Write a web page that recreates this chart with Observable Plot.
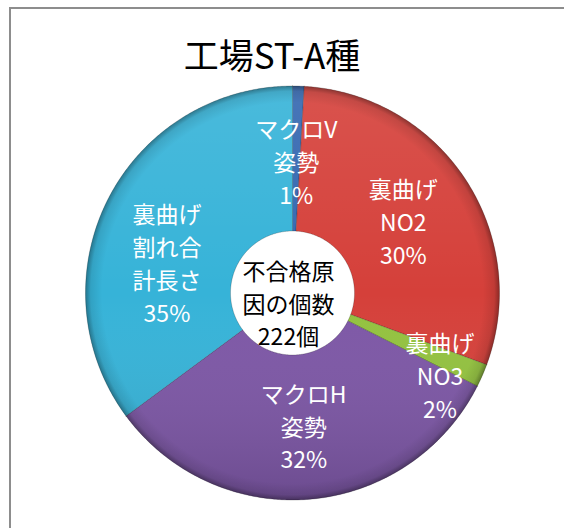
<!DOCTYPE html>
<html>
<head>
<meta charset="utf-8">
<script src="https://cdn.jsdelivr.net/npm/d3@7"></script>
<script src="https://cdn.jsdelivr.net/npm/@observablehq/plot@0.6"></script>
<style>
  html, body { margin: 0; padding: 0; background: #fff; width: 564px; height: 528px; overflow: hidden; position: relative; }
  #frame { position: absolute; left: 9px; top: 7px; width: 555px; height: 521px; border-top: 2px solid #8d8d8d; border-left: 2px solid #8d8d8d; box-sizing: border-box; }
  #title { position: absolute; left: 0; top: 36px; width: 544px; text-align: center; font-family: "Noto Sans CJK JP", sans-serif; font-size: 35px; line-height: 35px; color: #000; }
  #chart { position: absolute; left: 0; top: 70px; }
</style>
</head>
<body>
<div id="frame"></div>
<div id="title"></div>
<div id="chart"></div>
<script>
// ---- data ----
const title = "工場ST-A種";
const categories = ["マクロV姿勢", "裏曲げNO2", "裏曲げNO3", "マクロH姿勢", "裏曲げ割れ合計長さ"];
const labelLines = [["マクロV", "姿勢"], ["裏曲げ", "NO2"], ["裏曲げ", "NO3"], ["マクロH", "姿勢"], ["裏曲げ", "割れ合", "計長さ"]];
const counts = [2, 66, 4, 72, 78];
const colors = ["#3467b0", "#d5403a", "#93c23f", "#7d57a6", "#36b3d8"];
const centerLines = ["不合格原", "因の個数"];
const centerUnit = "個";

// ---- layout ----
const W = 564, H = 447;
const CX = 292, CY = 222.5, RPX = 207;        // pie center / radius in svg pixels
const R_IN = 62 / RPX;                          // hole radius (relative)
const labelR = 0.64;
const labelPlacement = {2: {r: 0.815, angle: 119}, 4: {r: 0.625, angle: 284}};
const font = '"Noto Sans CJK JP", sans-serif';

document.getElementById("title").textContent = title;

const total = d3.sum(counts);
const pie = d3.pie().sort(null).value(d => d)(counts);

function arcPoints(name, a0, a1, rOut, rIn) {
  const pts = [];
  const n = Math.max(2, Math.ceil((a1 - a0) / (Math.PI / 360)));
  for (let k = 0; k <= n; k++) { const a = a0 + (a1 - a0) * k / n; pts.push({name, x: rOut * Math.sin(a), y: rOut * Math.cos(a)}); }
  for (let k = n; k >= 0; k--) { const a = a0 + (a1 - a0) * k / n; pts.push({name, x: rIn * Math.sin(a), y: rIn * Math.cos(a)}); }
  pts.push({...pts[0]});
  return pts;
}

const slicePts = pie.flatMap((p, i) => arcPoints(categories[i], p.startAngle, p.endAngle, 1, R_IN));
const ringPts = arcPoints("ring", 0, 2 * Math.PI, 1, R_IN);
const shadowPts = arcPoints("shadow", 0, 2 * Math.PI, 1, R_IN);

const labelData = pie.map((p, i) => {
  const o = labelPlacement[i] || {};
  const mid = o.angle != null ? o.angle * Math.PI / 180 : (p.startAngle + p.endAngle) / 2;
  const r = o.r != null ? o.r : labelR;
  return {x: r * Math.sin(mid), y: r * Math.cos(mid),
          text: [...labelLines[i], Math.round(p.value / total * 100) + "%"].join("\n")};
});
const centerData = [{x: 0, y: 0, text: [...centerLines, total + centerUnit].join("\n")}];

const chart = Plot.plot({
  width: W, height: H,
  marginTop: 0, marginBottom: 0, marginLeft: 0, marginRight: 0,
  x: {domain: [-CX / RPX, (W - CX) / RPX], axis: null},
  y: {domain: [-(H - CY) / RPX, CY / RPX], axis: null},
  color: {domain: categories, range: colors},
  style: {fontFamily: font, background: "transparent", overflow: "visible"},
  marks: [
    Plot.line(shadowPts, {x: "x", y: "y", z: "name", fill: "#000", fillOpacity: 0.28, stroke: "none", dy: 4, dx: 1, ariaLabel: "shadow"}),
    Plot.line(slicePts, {x: "x", y: "y", z: "name", fill: "name", stroke: "rgba(0,0,0,0.25)", strokeWidth: 0.8, curve: "linear-closed"}),
    Plot.line(ringPts, {x: "x", y: "y", z: "name", fill: "url(#vshade)", stroke: "none"}),
    Plot.line(ringPts, {x: "x", y: "y", z: "name", fill: "url(#rshade)", stroke: "none"}),
    Plot.text(labelData, {x: "x", y: "y", text: "text", fill: "#fff", fontSize: 23, lineHeight: 1.43, fontFamily: font}),
    Plot.text(centerData, {x: "x", y: "y", text: "text", fill: "#000", fontSize: 23, lineHeight: 1.43, fontFamily: font, dy: 9, dx: -4})
  ]
});

// gradients for the bevelled look
const svgNS = "http://www.w3.org/2000/svg";
const defs = document.createElementNS(svgNS, "defs");
defs.innerHTML = `
  <linearGradient id="vshade" x1="0" y1="0" x2="0" y2="1">
    <stop offset="0" stop-color="#fff" stop-opacity="0.10"/>
    <stop offset="0.5" stop-color="#fff" stop-opacity="0"/>
    <stop offset="1" stop-color="#000" stop-opacity="0.14"/>
  </linearGradient>
  <radialGradient id="rshade" cx="0.5" cy="0.5" r="0.5">
    <stop offset="0" stop-color="#000" stop-opacity="0"/>
    <stop offset="0.92" stop-color="#000" stop-opacity="0"/>
    <stop offset="0.975" stop-color="#000" stop-opacity="0.10"/>
    <stop offset="1" stop-color="#000" stop-opacity="0.35"/>
  </radialGradient>`;
chart.insertBefore(defs, chart.firstChild);
const sh = chart.querySelector('g[aria-label="shadow"]');
if (sh) sh.style.filter = "blur(3px)";

document.getElementById("chart").appendChild(chart);
</script>
</body>
</html>
